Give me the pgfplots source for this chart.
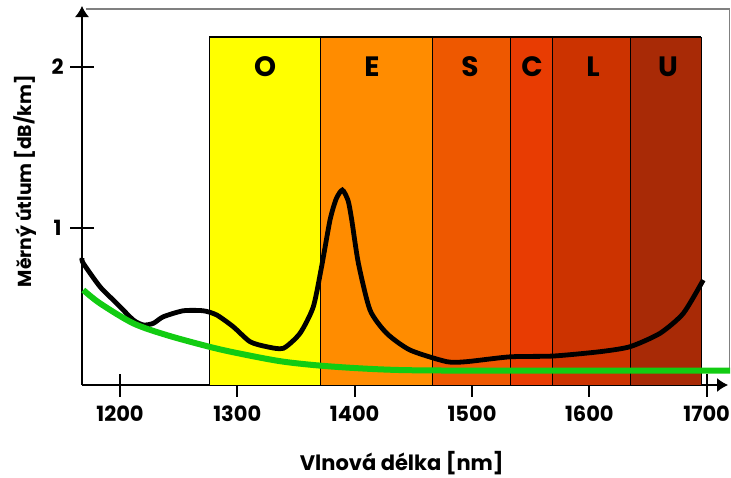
\documentclass[border=0pt]{standalone}
\usepackage{fontspec}
\setmainfont{Poppins}
\usepackage{pgfplots}
\pgfplotsset{compat=1.18}
\usetikzlibrary{arrows.meta}

\definecolor{bandO}{HTML}{FFFF00}
\definecolor{bandE}{HTML}{FF8C00}
\definecolor{bandS}{HTML}{EE5800}
\definecolor{bandC}{HTML}{E83C02}
\definecolor{bandL}{HTML}{CC3300}
\definecolor{bandU}{HTML}{A82A06}
\definecolor{fibre}{HTML}{12CC12}

\begin{document}
\begin{tikzpicture}
\useasboundingbox (-41pt,-46pt) rectangle (324.5pt,192.5pt);
\begin{axis}[
    at={(0,0)}, anchor=south west,
    scale only axis,
    width=323pt, height=189.5pt,
    xmin=1167.6, xmax=1718.2,
    ymin=0.025, ymax=2.379,
    axis lines=left,
    axis line style={line width=0.6pt, -{Latex[length=5.5pt,width=7pt]}},
    clip=false,
    xtick={1200,1300,1400,1500,1600,1700},
    ytick={1,2},
    tick align=center,
    major tick length=11.5pt,
    tick style={line width=1pt, black},
    /pgf/number format/assume math mode=true,
    /pgf/number format/1000 sep={},
    tick label style={font=\bfseries\fontsize{10.5}{12}\selectfont},
    xticklabel style={anchor=center, yshift=-8.5pt},
    yticklabel style={anchor=center, xshift=-6.5pt},
    xlabel={Vlnová délka [nm]},
    ylabel={Měrný útlum [dB/km]},
    xlabel style={font=\bfseries\fontsize{10.5}{12}\selectfont,
        at={(axis description cs:0.495,0)}, anchor=center, yshift=-39pt},
    ylabel style={font=\bfseries\fontsize{9.4}{11}\selectfont,
        at={(axis description cs:0,0.538)}, anchor=center, yshift=28.5pt},
]
% outer grey frame
\addplot[draw=gray, line width=0.75pt] coordinates {(1171,2.36) (1719.4,2.36) (1719.4,0.13)};

% bands
\addplot[fill=bandO, draw=black, line width=0.5pt] coordinates {(1276,0.025) (1276,2.186) (1370.5,2.186) (1370.5,0.025)} --cycle;
\addplot[fill=bandE, draw=black, line width=0.5pt] coordinates {(1370.5,0.025) (1370.5,2.186) (1466,2.186) (1466,0.025)} --cycle;
\addplot[fill=bandS, draw=black, line width=0.5pt] coordinates {(1466,0.025) (1466,2.186) (1532.4,2.186) (1532.4,0.025)} --cycle;
\addplot[fill=bandC, draw=black, line width=0.5pt] coordinates {(1532.4,0.025) (1532.4,2.186) (1568.5,2.186) (1568.5,0.025)} --cycle;
\addplot[fill=bandL, draw=black, line width=0.5pt] coordinates {(1568.5,0.025) (1568.5,2.186) (1634.7,2.186) (1634.7,0.025)} --cycle;
\addplot[fill=bandU, draw=black, line width=0.5pt] coordinates {(1634.7,0.025) (1634.7,2.186) (1695.2,2.186) (1695.2,0.025)} --cycle;
\addplot[draw=black, line width=1pt] coordinates {(1276,2.186) (1695.2,2.186)};

\begin{scope}[font=\bfseries\fontsize{14}{16}\selectfont]
\node at (axis cs:1323.6,2.0) {O};
\node at (axis cs:1414.8,2.0) {E};
\node at (axis cs:1498.3,2.0) {S};
\node at (axis cs:1551.1,2.0) {C};
\node at (axis cs:1603.1,2.0) {L};
\node at (axis cs:1667.0,2.0) {U};
\end{scope}

% measured attenuation
\addplot[black, line width=2.4pt, smooth, tension=0.4] coordinates {
(1167.6,0.814) (1168.7,0.781) (1183,0.635) (1197.2,0.532) (1211.3,0.429)
(1219.9,0.398) (1228.4,0.408) (1236.9,0.449) (1253.9,0.486) (1271,0.486)
(1282.4,0.46) (1296.5,0.387) (1310.8,0.294) (1325,0.263) (1339.2,0.253)
(1353.4,0.346) (1364.7,0.51) (1371.8,0.76) (1379,1.05) (1384.2,1.18)
(1389.5,1.236) (1394.4,1.17) (1397.5,1.05) (1403.2,0.78) (1413.1,0.49)
(1427.3,0.346) (1447.2,0.242) (1478.4,0.17) (1495.4,0.17) (1532.4,0.2)
(1569.3,0.205) (1609.1,0.232) (1634.7,0.263) (1660.2,0.346) (1680.1,0.47)
(1697.1,0.677)
};

% theoretical limit
\addplot[fibre, line width=3pt, smooth, tension=0.5] coordinates {
(1168.7,0.615) (1183,0.532) (1211.3,0.408) (1239.8,0.335) (1275.9,0.263)
(1300.8,0.222) (1339.2,0.17) (1381.8,0.139) (1438.6,0.118) (1523.9,0.114)
(1609.1,0.114) (1719.9,0.114)
};
\end{axis}
\end{tikzpicture}
\end{document}
